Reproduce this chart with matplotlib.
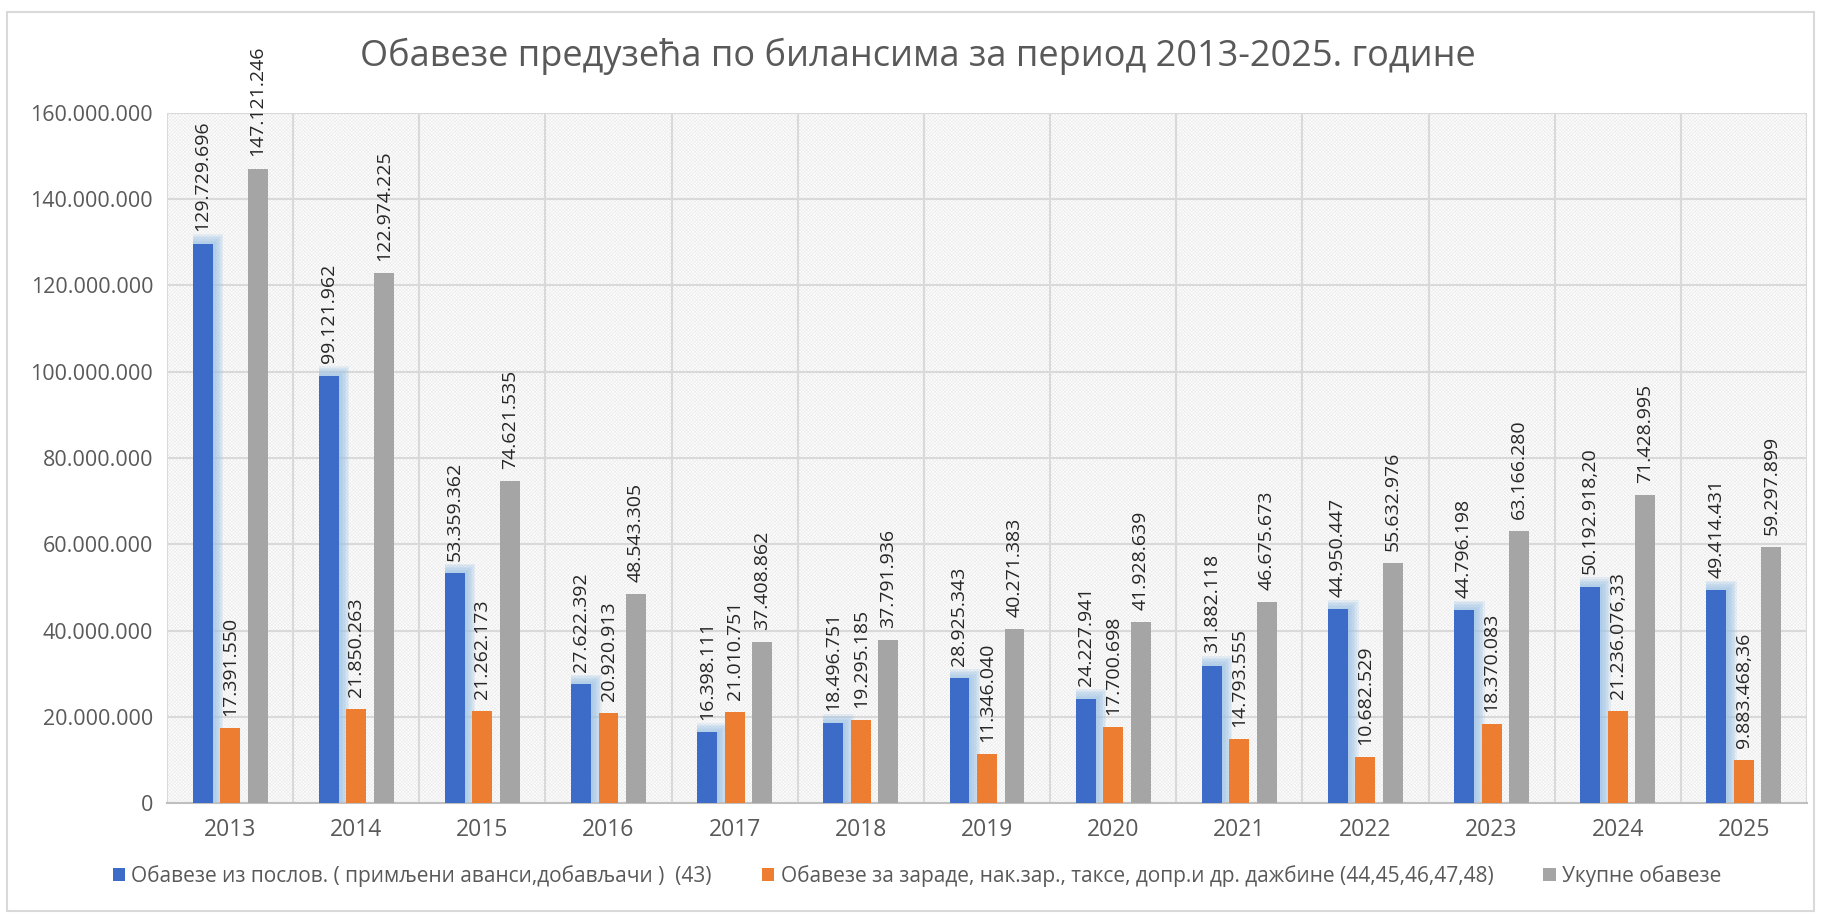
import numpy as np
import matplotlib.pyplot as plt
from matplotlib.patches import Rectangle

plt.rcParams['font.family'] = ['Open Sans', 'DejaVu Sans']
plt.rcParams['hatch.linewidth'] = 0.5
plt.rcParams['hatch.color'] = '#ededed'

# Podaci sa grafikona
godine = ['2013', '2014', '2015', '2016', '2017', '2018', '2019',
          '2020', '2021', '2022', '2023', '2024', '2025']
poslovne = [129729696, 99121962, 53359362, 27622392, 16398111, 18496751, 28925343,
            24227941, 31882118, 44950447, 44796198, 50192918.20, 49414431]
zarade = [17391550, 21850263, 21262173, 20920913, 21010751, 19295185, 11346040,
          17700698, 14793555, 10682529, 18370083, 21236076.33, 9883468.36]
ukupne = [147121246, 122974225, 74621535, 48543305, 37408862, 37791936, 40271383,
          41928639, 46675673, 55632976, 63166280, 71428995, 59297899]
nazivi = ['Обавезе из послов. ( примљени аванси,добављачи )  (43)',
          'Обавезе за зараде, нак.зар., таксе, допр.и др. дажбине (44,45,46,47,48)',
          'Укупне обавезе']
y_ticks = np.arange(0, 160000001, 20000000)


def fmt(v):
    if float(v).is_integer():
        return f'{int(v):,}'.replace(',', '.')
    s = f'{v:,.2f}'
    return s.replace(',', 'X').replace('.', ',').replace('X', '.')


fig = plt.figure(figsize=(18.21, 9.17), dpi=100)
# okvir oko celog grafikona
fig.patches.append(Rectangle((0.004, 0.006), 0.992, 0.981, transform=fig.transFigure,
                             fill=False, edgecolor='#d9d9d9', lw=1.5))

ax = fig.add_axes([0.0917, 0.1243, 0.9006, 0.7525])
ax.add_patch(Rectangle((0, 0), 1, 1, transform=ax.transAxes, facecolor='white',
                       edgecolor='#ededed', hatch='x' * 10, lw=0, zorder=0))

x = np.arange(len(godine))
w = 0.158
off = 0.218
boje = ['#3d6cc8', '#ed7d31', '#a5a5a5']

# svetlo plava "senka" desno od plavih stubova
for k in range(7):
    ax.bar(x - off - w / 2, np.array(poslovne) + 350000 * k, w + 0.012 * (k + 1),
           align='edge', color='#9dc3e6', alpha=0.2, lw=0, zorder=2)

b1 = ax.bar(x - off, poslovne, w, color=boje[0], zorder=3, label=nazivi[0])
b2 = ax.bar(x, zarade, w, color=boje[1], zorder=3, label=nazivi[1])
b3 = ax.bar(x + off, ukupne, w, color=boje[2], zorder=3, label=nazivi[2])

for pos, vals in [(x - off, poslovne), (x, zarade), (x + off, ukupne)]:
    for xi, v in zip(pos, vals):
        ax.text(xi, v + 2800000, fmt(v), rotation=90, ha='center', va='bottom',
                fontsize=14, color='#262626', zorder=4)

ax.set_xlim(-0.5, len(godine) - 0.5)
ax.set_ylim(0, 160000000)
ax.set_xticks(x)
ax.set_xticklabels(godine, fontsize=16.5, color='#595959')
ax.set_xticks(np.arange(-0.5, len(godine), 1), minor=True)
ax.set_yticks(y_ticks)
ax.set_yticklabels([fmt(v) for v in y_ticks], fontsize=15.5, color='#595959')
ax.tick_params(axis='both', which='both', length=0)
ax.tick_params(axis='x', pad=11)
ax.tick_params(axis='y', pad=10)
ax.yaxis.grid(True, color='#d9d9d9', lw=1.5, zorder=1)
ax.xaxis.grid(True, which='minor', color='#d9d9d9', lw=1.5, zorder=1)
ax.set_axisbelow(True)
for s in ['top', 'left', 'right']:
    ax.spines[s].set_visible(False)
ax.spines['bottom'].set_color('#bfbfbf')
ax.spines['bottom'].set_linewidth(1.5)

fig.text(0.504, 0.939, 'Обавезе предузећа по билансима за период 2013-2025. године',
         ha='center', va='center', fontsize=26, color='#595959')

fig.legend(handles=[b1, b2, b3], loc='center', bbox_to_anchor=(0.5036, 1 - 876 / 917),
           ncol=3, frameon=False, fontsize=15, handlelength=0.6, handleheight=0.6,
           handletextpad=0.3, columnspacing=2.4, labelcolor='#595959')

fig.savefig('out.png', dpi=100)
